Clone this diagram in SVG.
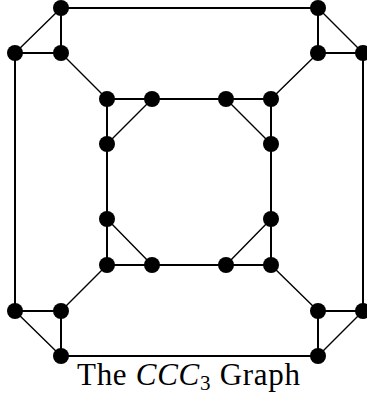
<svg xmlns="http://www.w3.org/2000/svg" width="367" height="400" viewBox="0 0 367 400">
<style>
.e{stroke:#000;stroke-width:2;fill:none;stroke-linecap:round}
.d{stroke:#000;stroke-width:1.4;fill:none;stroke-linecap:round}
.n circle{fill:#000}
.t{font-family:"Liberation Serif","DejaVu Serif",serif;font-size:31px;fill:#000}
</style>
<rect width="367" height="400" fill="#fff"/>
<g id="connectors">
<path class="e" d="M61,8H318M15,53V311M363,53V311M61,356H318"/>
<path class="e" d="M61,8V53H15M318,8V53H363M15,311H61V356M363,311H318V356"/>
<path class="d" d="M61,8L15,53M318,8L363,53M15,311L61,356M363,311L318,356"/>
<path class="d" d="M61,53L107,99M318,53L271,99M61,311L107,265M318,311L271,265"/>
<path class="e" d="M107,99H271V265H107Z"/>
<path class="d" d="M152,99L107,144M226,99L271,144M107,219L152,265M271,219L226,265"/>
</g>
<g class="n">
<g id="n1"><circle cx="61" cy="8" r="8"/></g>
<g id="n2"><circle cx="318" cy="8" r="8"/></g>
<g id="n3"><circle cx="15" cy="53" r="8"/></g>
<g id="n4"><circle cx="61" cy="53" r="8"/></g>
<g id="n5"><circle cx="318" cy="53" r="8"/></g>
<g id="n6"><circle cx="363" cy="53" r="8"/></g>
<g id="n7"><circle cx="107" cy="99" r="8"/></g>
<g id="n8"><circle cx="152" cy="99" r="8"/></g>
<g id="n9"><circle cx="226" cy="99" r="8"/></g>
<g id="n10"><circle cx="271" cy="99" r="8"/></g>
<g id="n11"><circle cx="107" cy="144" r="8"/></g>
<g id="n12"><circle cx="271" cy="144" r="8"/></g>
<g id="n13"><circle cx="107" cy="219" r="8"/></g>
<g id="n14"><circle cx="271" cy="219" r="8"/></g>
<g id="n15"><circle cx="107" cy="265" r="8"/></g>
<g id="n16"><circle cx="152" cy="265" r="8"/></g>
<g id="n17"><circle cx="226" cy="265" r="8"/></g>
<g id="n18"><circle cx="271" cy="265" r="8"/></g>
<g id="n19"><circle cx="15" cy="311" r="8"/></g>
<g id="n20"><circle cx="61" cy="311" r="8"/></g>
<g id="n21"><circle cx="318" cy="311" r="8"/></g>
<g id="n22"><circle cx="363" cy="311" r="8"/></g>
<g id="n23"><circle cx="61" cy="356" r="8"/></g>
<g id="n24"><circle cx="318" cy="356" r="8"/></g>
</g>
<text class="t" x="77" y="385" textLength="223" lengthAdjust="spacing">The <tspan font-style="italic">CCC</tspan><tspan font-size="21" dy="5">3</tspan><tspan dy="-5"> Graph</tspan></text>
</svg>
